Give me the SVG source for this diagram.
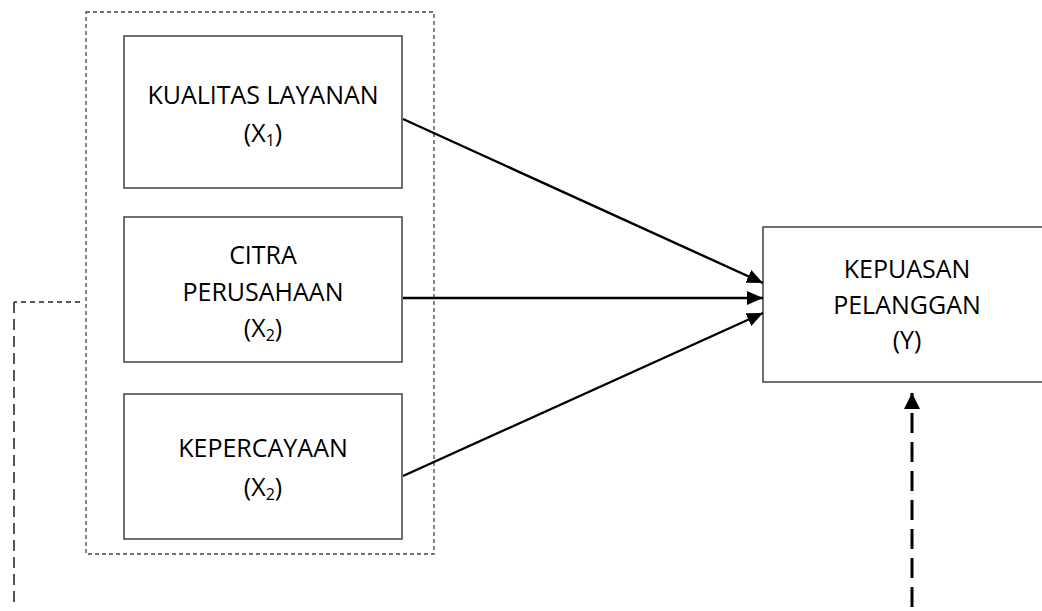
<svg xmlns="http://www.w3.org/2000/svg" width="1042" height="611" viewBox="0 0 1042 611">
<style>
.box{fill:#fff;stroke:#404040;stroke-width:1.5}
.t{font-family:"Open Sans","Liberation Sans",sans-serif;font-size:25px;fill:#000;text-anchor:middle}
.sub{font-size:16px}
.arr{stroke:#000;stroke-width:2.4;fill:none;marker-end:url(#ah)}
</style>
<defs>
<marker id="ah" viewBox="0 0 16 14" refX="16" refY="7" markerWidth="16" markerHeight="14" markerUnits="userSpaceOnUse" orient="auto">
<path d="M0,0 L16,7 L0,14 z" fill="#000"/>
</marker>
<marker id="ah2" viewBox="0 0 16 16" refX="16" refY="8" markerWidth="16" markerHeight="16" markerUnits="userSpaceOnUse" orient="auto">
<path d="M0,0 L16,8 L0,16 z" fill="#000"/>
</marker>
</defs>
<g id="group">
<rect x="86" y="12" width="348" height="542" fill="none" stroke="#444" stroke-width="1.3" stroke-dasharray="4,3"/>
</g>
<g id="x1">
<rect class="box" x="124" y="36" width="278" height="152"/>
<text class="t" x="263" y="104">KUALITAS LAYANAN</text>
<text class="t" x="263" y="142">(X<tspan class="sub" dy="4">1</tspan><tspan dy="-4">)</tspan></text>
</g>
<g id="x2">
<rect class="box" x="124" y="217" width="278" height="145"/>
<text class="t" x="263" y="264">CITRA</text>
<text class="t" x="263" y="301">PERUSAHAAN</text>
<text class="t" x="263" y="337">(X<tspan class="sub" dy="4">2</tspan><tspan dy="-4">)</tspan></text>
</g>
<g id="x3">
<rect class="box" x="124" y="394" width="278" height="145"/>
<text class="t" x="263" y="457">KEPERCAYAAN</text>
<text class="t" x="263" y="496">(X<tspan class="sub" dy="4">2</tspan><tspan dy="-4">)</tspan></text>
</g>
<g id="y">
<rect class="box" x="763" y="227" width="290" height="155"/>
<text class="t" x="907" y="278">KEPUASAN</text>
<text class="t" x="907" y="314">PELANGGAN</text>
<text class="t" x="907" y="349">(Y)</text>
</g>
<g id="connectors">
<line class="arr" x1="403" y1="119" x2="763" y2="283"/>
<line class="arr" x1="403" y1="298" x2="763" y2="298"/>
<line class="arr" x1="403" y1="476" x2="763" y2="313"/>
<polyline points="80,302 14,302" fill="none" stroke="#222" stroke-width="1.4" stroke-dasharray="5,4"/>
<line x1="14" y1="302" x2="14" y2="605" fill="none" stroke="#444" stroke-width="1.8" stroke-dasharray="11,6"/>
<line x1="912" y1="607" x2="912" y2="393" stroke="#000" stroke-width="3" stroke-dasharray="20,9" marker-end="url(#ah2)"/>
</g>
</svg>
